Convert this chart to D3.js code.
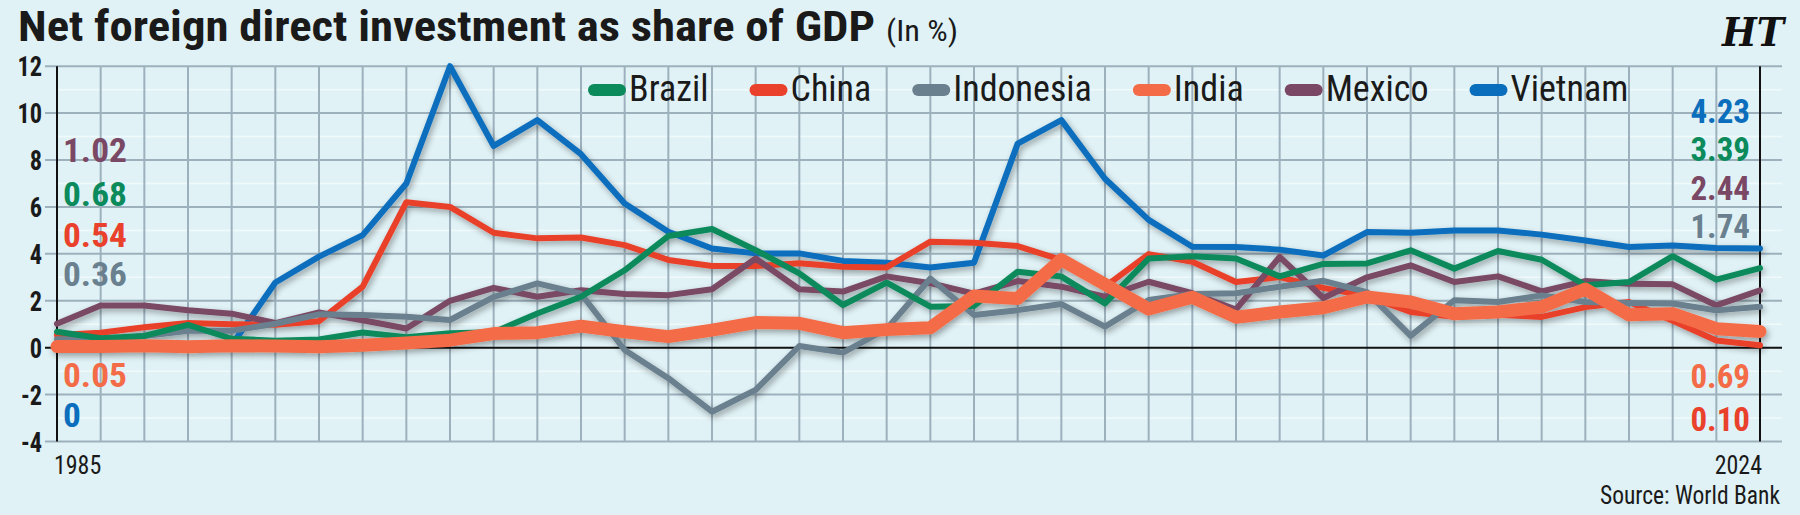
<!DOCTYPE html>
<html>
<head>
<meta charset="utf-8">
<script src="https://cdn.jsdelivr.net/npm/d3@7/dist/d3.min.js"></script>
<style>
html, body { margin: 0; padding: 0; background: #e0f2f6; }
svg { display: block; }
</style>
</head>
<body>
<script>
// years on the x axis, one point per year
var years = [1985, 1986, 1987, 1988, 1989, 1990, 1991, 1992, 1993, 1994,
             1995, 1996, 1997, 1998, 1999, 2000, 2001, 2002, 2003, 2004,
             2005, 2006, 2007, 2008, 2009, 2010, 2011, 2012, 2013, 2014,
             2015, 2016, 2017, 2018, 2019, 2020, 2021, 2022, 2023, 2024];
var xTickLabels = ["1985", "2024"];
var yTicks = [-4, -2, 0, 2, 4, 6, 8, 10, 12];

// net FDI inflows, % of GDP
var brazil = [0.68, 0.40, 0.50, 0.97, 0.38, 0.30, 0.35, 0.65, 0.45, 0.62,
              0.66, 1.46, 2.17, 3.30, 4.76, 5.06, 4.16, 3.17, 1.82, 2.77,
              1.75, 1.78, 3.24, 3.03, 1.89, 3.80, 3.90, 3.80, 3.04, 3.57,
              3.59, 4.15, 3.37, 4.12, 3.75, 2.66, 2.80, 3.90, 2.90, 3.39];
var china = [0.54, 0.64, 0.87, 1.05, 1.00, 0.98, 1.13, 2.60, 6.20, 6.00,
             4.90, 4.66, 4.70, 4.37, 3.74, 3.48, 3.48, 3.60, 3.45, 3.42,
             4.52, 4.47, 4.33, 3.74, 2.60, 3.99, 3.66, 2.80, 3.01, 2.55,
             2.20, 1.52, 1.32, 1.40, 1.31, 1.73, 1.95, 1.15, 0.31, 0.10];
var indonesia = [0.36, 0.34, 0.50, 0.72, 0.72, 1.02, 1.42, 1.39, 1.32, 1.18,
                 2.16, 2.74, 2.30, -0.10, -1.30, -2.73, -1.80, 0.07, -0.21, 0.80,
                 2.95, 1.39, 1.60, 1.86, 0.90, 2.03, 2.29, 2.32, 2.60, 2.85,
                 2.37, 0.50, 2.02, 1.95, 2.23, 1.95, 1.90, 1.88, 1.59, 1.74];
var india = [0.05, 0.05, 0.08, 0.04, 0.08, 0.07, 0.04, 0.10, 0.20, 0.32,
             0.60, 0.64, 0.92, 0.68, 0.47, 0.75, 1.07, 1.04, 0.64, 0.77,
             0.85, 2.20, 2.10, 3.75, 2.70, 1.65, 2.15, 1.30, 1.52, 1.70,
             2.16, 1.95, 1.45, 1.52, 1.73, 2.50, 1.40, 1.45, 0.81, 0.69];
var mexico = [1.02, 1.80, 1.80, 1.60, 1.45, 1.05, 1.50, 1.17, 0.82, 2.00,
              2.55, 2.17, 2.45, 2.29, 2.24, 2.49, 3.80, 2.49, 2.39, 3.04,
              2.75, 2.30, 2.84, 2.60, 2.17, 2.81, 2.32, 1.63, 3.87, 2.12,
              3.00, 3.51, 2.80, 3.04, 2.40, 2.84, 2.72, 2.70, 1.80, 2.44];
var vietnam = [0.00, 0.00, 0.00, 0.00, 0.10, 2.78, 3.88, 4.80, 7.00, 12.00,
               8.60, 9.70, 8.25, 6.15, 4.94, 4.23, 4.02, 4.02, 3.70, 3.62,
               3.42, 3.62, 8.70, 9.70, 7.20, 5.45, 4.30, 4.29, 4.18, 3.93,
               4.93, 4.90, 5.00, 5.00, 4.82, 4.57, 4.29, 4.36, 4.25, 4.23];

// labels printed at both ends of the chart
var startLabelText = ["1.02", "0.68", "0.54", "0.36", "0.05", "0"];
var startLabelSeries = ["Mexico", "Brazil", "China", "Indonesia", "India", "Vietnam"];
var endLabelText = ["4.23", "3.39", "2.44", "1.74", "0.69", "0.10"];
var endLabelSeries = ["Vietnam", "Brazil", "Mexico", "Indonesia", "India", "China"];

var colors = {
    Brazil: "#0b8a5c",
    China: "#e9412b",
    Indonesia: "#6a808e",
    India: "#f36c47",
    Mexico: "#7a4864",
    Vietnam: "#0a6ebd"
};

var legendOrder = ["Brazil", "China", "Indonesia", "India", "Mexico", "Vietnam"];
var series = [
    { name: "Vietnam", values: vietnam },
    { name: "China", values: china },
    { name: "Mexico", values: mexico },
    { name: "Indonesia", values: indonesia },
    { name: "Brazil", values: brazil },
    { name: "India", values: india }
];

// pick a narrow face that is actually installed
function pickFont(list, weight) {
    var c = document.createElement("canvas").getContext("2d");
    var sample = "Net foreign direct 0123456789 Indonesia";
    var fallbacks = ["monospace", "serif"];
    var base = fallbacks.map(function(f) {
        c.font = weight + " 40px " + f;
        return c.measureText(sample).width;
    });
    for (var i = 0; i < list.length; i++) {
        var ok = fallbacks.every(function(fb, j) {
            c.font = weight + ' 40px "' + list[i] + '", ' + fb;
            return c.measureText(sample).width !== base[j];
        });
        if (ok) return '"' + list[i] + '"';
    }
    return '"Liberation Sans"';
}
var narrow = pickFont(["Roboto Condensed", "Liberation Sans Narrow", "DejaVu Sans Condensed"], "bold") + ", sans-serif";

// stretch/squeeze text horizontally to match the original face
function squeeze(sel, k) {
    sel.each(function() {
        var w = this.getComputedTextLength();
        d3.select(this).attr("textLength", w * k).attr("lengthAdjust", "spacingAndGlyphs");
    });
}

var width = 1800, height = 515;
var plot = { left: 57, right: 1760, top: 66.2, bottom: 441.5 };

var svg = d3.select("body").append("svg")
    .attr("width", width)
    .attr("height", height);

var defs = svg.append("defs");
var f = defs.append("filter").attr("id", "shadow")
    .attr("filterUnits", "userSpaceOnUse")
    .attr("x", 0).attr("y", 0).attr("width", width).attr("height", height);
f.append("feGaussianBlur").attr("in", "SourceAlpha").attr("stdDeviation", 3).attr("result", "b");
f.append("feOffset").attr("in", "b").attr("dx", 2).attr("dy", 3).attr("result", "o");
f.append("feComponentTransfer").attr("in", "o").attr("result", "s")
    .append("feFuncA").attr("type", "linear").attr("slope", 0.35);
var fm = f.append("feMerge");
fm.append("feMergeNode").attr("in", "s");
fm.append("feMergeNode").attr("in", "SourceGraphic");

svg.append("rect").attr("width", width).attr("height", height).attr("fill", "#e0f2f6");

var x = d3.scaleLinear().domain([years[0], years[years.length - 1]]).range([plot.left, plot.right]);
var y = d3.scaleLinear().domain([-4, 12]).range([plot.bottom, plot.top]);

// faint minor lines at odd values
svg.append("g").selectAll("line")
    .data(d3.range(-3, 12, 2))
    .enter().append("line")
    .attr("x1", plot.left).attr("x2", 1782)
    .attr("y1", function(d) { return y(d); })
    .attr("y2", function(d) { return y(d); })
    .style("stroke", "#f6fcfd").style("stroke-width", 1.5).style("opacity", 0.8);

// grid
svg.append("g").selectAll("line")
    .data(years.slice(1, -1))
    .enter().append("line")
    .attr("x1", function(d) { return x(d); })
    .attr("x2", function(d) { return x(d); })
    .attr("y1", y(12)).attr("y2", y(-4))
    .style("stroke", "#9db1bd").style("stroke-width", 2);

svg.append("g").selectAll("line")
    .data(yTicks)
    .enter().append("line")
    .attr("x1", 45).attr("x2", 1782)
    .attr("y1", function(d) { return y(d); })
    .attr("y2", function(d) { return y(d); })
    .style("stroke", function(d) { return d === 0 ? "#111" : "#9db1bd"; })
    .style("stroke-width", 2);

// the two black end axes
svg.append("g").selectAll("line")
    .data([years[0], years[years.length - 1]])
    .enter().append("line")
    .attr("x1", function(d) { return x(d); })
    .attr("x2", function(d) { return x(d); })
    .attr("y1", y(12)).attr("y2", y(-4))
    .style("stroke", "#111").style("stroke-width", 2);

// y tick labels
svg.append("g").selectAll("text")
    .data(yTicks)
    .enter().append("text")
    .attr("x", 42)
    .attr("y", function(d) { return y(d) + 1; })
    .attr("text-anchor", "end")
    .attr("dominant-baseline", "central")
    .style("font-family", narrow).style("font-weight", "bold").style("font-size", "27px")
    .style("fill", "#1a1a1a")
    .text(function(d) { return d; })
    .call(squeeze, 0.9);

// lines
var line = d3.line()
    .x(function(d, i) { return x(years[i]); })
    .y(function(d) { return y(d); });

svg.append("g").attr("filter", "url(#shadow)")
    .selectAll("path")
    .data(series)
    .enter().append("path")
    .attr("d", function(d) { return line(d.values); })
    .style("fill", "none")
    .style("stroke", function(d) { return colors[d.name]; })
    .style("stroke-width", function(d) { return d.name === "India" ? 13 : 6; })
    .style("stroke-linejoin", "round")
    .style("stroke-linecap", "round");

// title
svg.append("text")
    .attr("x", 18).attr("y", 41)
    .attr("textLength", 857).attr("lengthAdjust", "spacingAndGlyphs")
    .style("font-family", narrow).style("font-weight", "bold").style("font-size", "42px")
    .style("fill", "#1a1a1a")
    .text("Net foreign direct investment as share of GDP");
svg.append("text")
    .attr("x", 886).attr("y", 41)
    .attr("textLength", 72).attr("lengthAdjust", "spacingAndGlyphs")
    .style("font-family", narrow).style("font-size", "30px")
    .style("fill", "#1a1a1a")
    .text("(In %)");

// HT mark
svg.append("text")
    .attr("x", 1722).attr("y", 46)
    .attr("textLength", 62).attr("lengthAdjust", "spacingAndGlyphs")
    .style("font-family", "'DejaVu Serif', serif").style("font-weight", "bold")
    .style("font-style", "italic").style("font-size", "40px")
    .style("fill", "#111")
    .text("HT");

// legend
var legend = svg.append("g");
var lx = 588;
legendOrder.forEach(function(name) {
    legend.append("line")
        .attr("x1", lx + 6).attr("x2", lx + 32)
        .attr("y1", 90).attr("y2", 90)
        .style("stroke", colors[name]).style("stroke-width", 12)
        .style("stroke-linecap", "round");
    var t = legend.append("text")
        .attr("x", lx + 41).attr("y", 101)
        .style("font-family", narrow).style("font-size", "36px")
        .style("fill", "#1a1a1a")
        .text(name);
    var w = t.node().getComputedTextLength();
    lx += 41 + w + 41;
});

// end value labels
var startY = [150, 194, 235, 274, 375, 415];
var endY = [111, 149.5, 188, 226.5, 376, 419];

svg.append("g").selectAll("text")
    .data(startLabelText)
    .enter().append("text")
    .attr("x", 63)
    .attr("y", function(d, i) { return startY[i]; })
    .attr("dominant-baseline", "central")
    .style("font-family", narrow).style("font-weight", "bold").style("font-size", "34px")
    .style("fill", function(d, i) { return colors[startLabelSeries[i]]; })
    .text(function(d) { return d; })
    .call(squeeze, 1.04);

svg.append("g").selectAll("text")
    .data(endLabelText)
    .enter().append("text")
    .attr("x", 1750)
    .attr("y", function(d, i) { return endY[i]; })
    .attr("text-anchor", "end")
    .attr("dominant-baseline", "central")
    .style("font-family", narrow).style("font-weight", "bold").style("font-size", "33px")
    .style("fill", function(d, i) { return colors[endLabelSeries[i]]; })
    .text(function(d) { return d; })
    .call(squeeze, 1.0);

// x labels
svg.append("text")
    .attr("x", x(years[0]) - 3).attr("y", 474)
    .style("font-family", narrow).style("font-size", "26px").style("fill", "#1a1a1a")
    .text(xTickLabels[0])
    .call(squeeze, 0.92);
svg.append("text")
    .attr("x", x(years[years.length - 1]) + 2).attr("y", 474)
    .attr("text-anchor", "end")
    .style("font-family", narrow).style("font-size", "26px").style("fill", "#1a1a1a")
    .text(xTickLabels[1])
    .call(squeeze, 0.92);

svg.append("text")
    .attr("x", 1780).attr("y", 504)
    .attr("text-anchor", "end")
    .style("font-family", narrow).style("font-size", "25px").style("fill", "#1a1a1a")
    .text("Source: World Bank")
    .call(squeeze, 0.94);
</script>
</body>
</html>
